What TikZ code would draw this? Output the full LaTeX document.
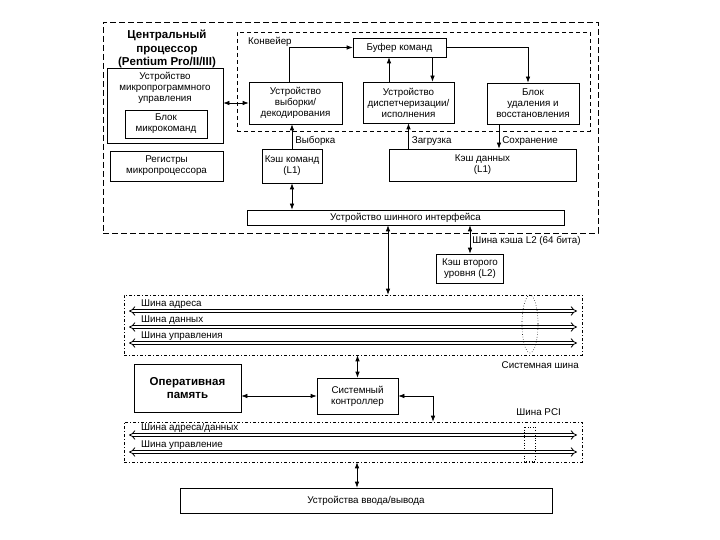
\documentclass[tikz,border=0pt]{standalone}
\usepackage{fontspec}
\setmainfont{Liberation Sans}
\usepackage{tikz}
\usetikzlibrary{calc, positioning, arrows.meta, shapes}

\newcommand{\txtsize}{\fontsize{9.8}{11}\selectfont}
\newcommand{\ttlsize}{\fontsize{11.5}{13.3}\selectfont\bfseries}

\tikzset{
	blok/.style={draw, line width=0.7pt, align=center, inner sep=1pt, font=\txtsize},
	lbl/.style={inner sep=1pt, font=\txtsize},
	cpubox/.style={draw, line width=0.9pt, dash pattern=on 6pt off 3pt},
	pipebox/.style={draw, line width=0.6pt, dash pattern=on 4pt off 3pt},
	busbox/.style={draw, line width=0.6pt, dash pattern=on 3pt off 2pt on 1pt off 2pt},
	busline/.style={line width=0.8pt, double, double distance=2.4pt, {Implies}-{Implies}},
	link/.style={line width=0.7pt},
	>={Latex[length=6pt, width=4.5pt]}
}

\begin{document}
\begin{tikzpicture}
			[x=1pt, y=-1pt]
		\path[use as bounding box, fill=white] (0,0) rectangle (720,540);

		% processor %
		\node[cpubox, minimum width=495, minimum height=211] (cpu) at (350.5,127.5) {};
		\node[pipebox, minimum width=353, minimum height=99] (pipe) at (413.5,81.5) {};
		\node[lbl, anchor=west] (pipetxt) at (247,42) {Конвейер};
		\node[align=center, inner sep=0pt, font=\ttlsize] (title) at (167,49) {Центральный\\процессор\\(Pentium Pro/II/III)};

		% nodes %
		\node[blok, minimum width=116, minimum height=75] (mpu) at (165,105.5) {};
		\node[lbl, align=center, below=3pt of mpu.north] (mputxt) {Устройство\\микропрограммного\\управления};
		\node[blok, minimum width=82, minimum height=28] (mcb) at (166,124) {Блок\\микрокоманд};
		\node[blok, minimum width=113, minimum height=30] (reg) at (166.5,166) {Регистры\\микропроцессора};
		\node[blok, minimum width=93, minimum height=42] (fetch) at (295.5,103) {Устройство\\выборки/\\декодирования};
		\node[blok, minimum width=93, minimum height=19] (buf) at (399.5,47.5) {Буфер команд};
		\node[blok, minimum width=91, minimum height=41] (disp) at (408.5,102.5) {Устройство\\диспетчеризации/\\исполнения};
		\node[blok, minimum width=92, minimum height=41] (ret) at (533,103.5) {Блок\\удаления и\\восстановления};
		\node[blok, minimum width=60, minimum height=34] (icache) at (292,166) {Кэш команд\\(L1)};
		\node[blok, minimum width=187, minimum height=32] (dcache) at (482.5,165) {Кэш данных\\(L1)};
		\node[blok, minimum width=317, minimum height=15] (biu) at (405.5,217.5) {Устройство шинного интерфейса};
		\node[blok, minimum width=67, minimum height=29] (l2) at (470,268.5) {Кэш второго\\уровня (L2)};

		% buses %
		\node[busbox, minimum width=458, minimum height=60] (sysbus) at (353,325) {};
		\node[busbox, minimum width=458, minimum height=40] (pcibus) at (353,442) {};
		\foreach \yy/\name in {311/{Шина адреса}, 327/{Шина данных}, 343/{Шина управления}, 435/{Шина адреса/данных}, 452/{Шина управление}} {
			\draw[busline] (129,\yy) -- (577,\yy);
			\node[lbl, anchor=base west] at (140,\yy-4.5) {\name};
		}
		\draw[dotted, line width=0.6pt] (530,324) ellipse [x radius=8, y radius=29];
		\draw[dotted, line width=0.6pt] (524,427) rectangle (535,461);
		\node[lbl, anchor=east] (systxt) at (580,365) {Системная шина};
		\node[lbl, anchor=east] (pcitxt) at (562,412) {Шина PCI};

		\node[blok, font=\ttlsize, minimum width=107, minimum height=48] (mem) at (187.5,388) {Оперативная\\память};
		\node[blok, minimum width=81, minimum height=36] (ctrl) at (357.5,396) {Системный\\контроллер};
		\node[blok, minimum width=372, minimum height=25] (io) at (366,500.5) {Устройства ввода/вывода};

		% edges %
		\draw[link, <->] (fetch.west -| mpu.east) -- (fetch.west);
		\draw[link, ->] ([xshift=-6]fetch.north) |- (buf.west);
		\draw[link, ->] ([xshift=-19.5]disp.north) -- ([xshift=-19.5]disp.north |- buf.south);
		\draw[link, ->] ([xshift=24]disp.north |- buf.south) -- ([xshift=24]disp.north);
		\draw[link, ->] (buf.east) -| ([xshift=-5]ret.north);
		\draw[link, ->] (icache.north) -- node[lbl, pos=0.3, anchor=west, xshift=2pt] {Выборка} (icache.north |- fetch.south);
		\draw[link, ->] (dcache.north -| disp.south) -- node[lbl, pos=0.3, anchor=west, xshift=2pt] {Загрузка} (disp.south);
		\draw[link, ->] ([xshift=-34]ret.south) -- node[lbl, pos=0.7, anchor=west, xshift=2pt] {Сохранение} ([xshift=-34]ret.south |- dcache.north);
		\draw[link, <->] (icache.south) -- (icache.south |- biu.north);
		\draw[link, <->] ([xshift=-17.5]biu.south) -- ([xshift=-17.5]biu.south |- sysbus.north);
		\draw[link, <->] (l2.north |- biu.south) -- node[lbl, pos=0.56, anchor=west, xshift=1pt] {Шина кэша L2 (64 бита)} (l2.north);
		\draw[link, <->] (ctrl.north |- sysbus.south) -- (ctrl.north);
		\draw[link, <->] (ctrl.west -| mem.east) -- (ctrl.west);
		\draw[link, <->] (ctrl.east) -| ([xshift=80]pcibus.north);
		\draw[link, <->] ([xshift=-9]io.north |- pcibus.south) -- ([xshift=-9]io.north);
		\end{tikzpicture}
\end{document}
